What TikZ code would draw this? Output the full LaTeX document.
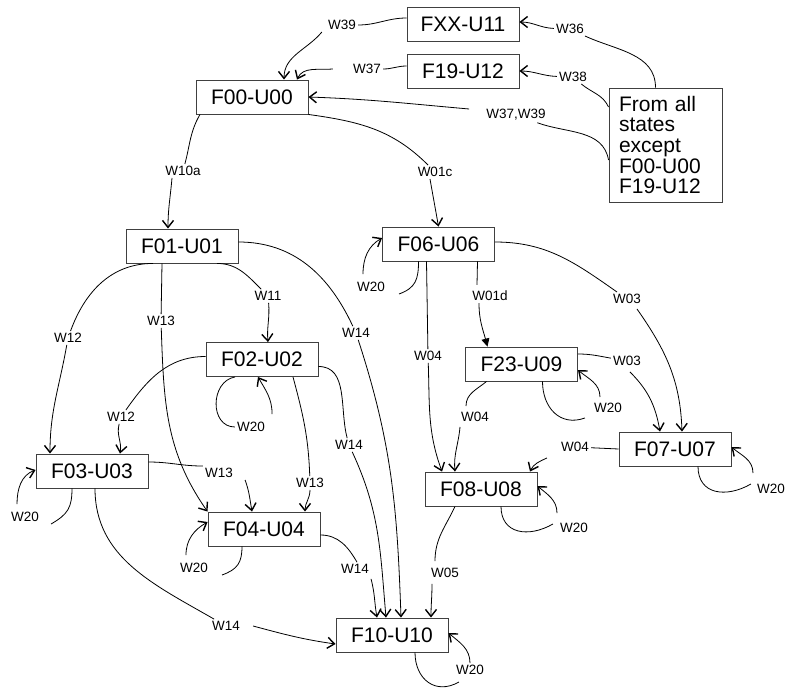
\documentclass[tikz,border=0pt]{standalone}
\usepackage{fontspec}
\setmainfont{Liberation Sans}
\usetikzlibrary{arrows.meta}
\begin{document}
\begin{tikzpicture}[x=1pt,y=-1pt,
  box/.style={draw=black!75, line width=0.9pt, minimum width=112pt, minimum height=34pt, inner sep=0pt, font=\fontsize{21}{24}\selectfont},
  lab/.style={inner sep=2pt, font=\fontsize{13.5}{15}\selectfont},
  conn/.style={line width=0.8pt},
  arr/.style={conn, -{Straight Barb[length=7pt,width=11pt,line width=1.4pt]}},
  tri/.style={conn, -{Triangle[length=8pt,width=8pt]}}
]
\useasboundingbox (0,0) rectangle (785,688);
% states
\node[box] (FXX) at (463,24) {FXX-U11};
\node[box] (F19) at (463,71) {F19-U12};
\node[box] (F00) at (252,97) {F00-U00};
\node[box, minimum width=113pt, minimum height=114pt, text width=93pt, align=left, inner xsep=10pt, inner ysep=8pt, font=\fontsize{21}{20.6}\selectfont] (From) at (665.5,145) {From all\\states\\except\\F00-U00\\F19-U12};
\node[box] (F01) at (182,246) {F01-U01};
\node[box] (F06) at (438.5,244) {F06-U06};
\node[box] (F02) at (262,359.5) {F02-U02};
\node[box] (F23) at (521.5,364) {F23-U09};
\node[box] (F03) at (92,471) {F03-U03};
\node[box] (F07) at (675,449) {F07-U07};
\node[box] (F08) at (481,489) {F08-U08};
\node[box] (F04) at (264,529) {F04-U04};
\node[box] (F10) at (392,635) {F10-U10};
% labels
\node[lab] (lW39) at (342,25) {W39};
\node[lab] (lW37) at (367,69) {W37};
\node[lab] (lW36) at (570,29) {W36};
\node[lab] (lW38) at (573,77) {W38};
\node[lab] (lW3739) at (516,115) {W37,W39};
\node[lab] (lW10a) at (183,171) {W10a};
\node[lab] (lW01c) at (435,172) {W01c};
\node[lab] (lW12a) at (68,338) {W12};
\node[lab] (lW13a) at (161,321) {W13};
\node[lab] (lW11) at (268,296) {W11};
\node[lab] (lW14a) at (356,333) {W14};
\node[lab] (lW12b) at (121,417) {W12};
\node[lab] (lW20b) at (251,427) {W20};
\node[lab] (lW14b) at (349,445) {W14};
\node[lab] (lW13b) at (310,483) {W13};
\node[lab] (lW13c) at (219,473) {W13};
\node[lab] (lW20c) at (25,517) {W20};
\node[lab] (lW14c) at (226,626) {W14};
\node[lab] (lW20d) at (194,568) {W20};
\node[lab] (lW14d) at (355,569) {W14};
\node[lab] (lW05) at (445,573) {W05};
\node[lab] (lW20j) at (470,670) {W20};
\node[lab] (lW20f) at (371,287) {W20};
\node[lab] (lW04a) at (428,356) {W04};
\node[lab] (lW01d) at (490,296) {W01d};
\node[lab] (lW03a) at (627,299) {W03};
\node[lab] (lW03b) at (627,361) {W03};
\node[lab] (lW20g) at (608,408) {W20};
\node[lab] (lW04b) at (475,417) {W04};
\node[lab] (lW04c) at (575,447) {W04};
\node[lab] (lW20h) at (771,489) {W20};
\node[lab] (lW20i) at (574,528) {W20};
% top
\draw[conn] ([yshift=6pt]FXX.west) to[out=180,in=0] (lW39);
\draw[arr] ([xshift=-4pt]lW39.south west) to[out=-130,in=90] ([xshift=32pt]F00.north);
\draw[conn] ([yshift=5pt]F19.west) to[out=180,in=0] (lW37);
\draw[arr] ([xshift=-18pt]lW37.west) to[out=185,in=65] ([xshift=45pt]F00.north);
\draw[conn] ([xshift=-10pt]From.north) to[out=90,in=-25] (lW36);
\draw[arr] (lW36) to[out=178,in=0] ([yshift=2pt]FXX.east);
\draw[conn] ([yshift=38pt]From.west) to[out=115,in=-40] (lW38);
\draw[arr] (lW38) to[out=178,in=0] (F19.east);
\draw[conn] ([yshift=-15pt]From.west) to[out=100,in=-20] (lW3739);
\draw[arr] ([xshift=-15pt,yshift=6pt]lW3739.west) to[out=175,in=-2] (F00.east);
% F00
\draw[conn] ([xshift=-52pt]F00.south) to[out=-120,in=75] (lW10a);
\draw[arr] ([xshift=-11pt]lW10a.south) to[out=-95,in=90] ([xshift=-14pt]F01.north);
\draw[conn] (F00.south east) to[out=-8,in=135] (lW01c);
\draw[arr] ([xshift=-5pt]lW01c.south) to[out=-80,in=100] (F06.north);
% F01
\draw[conn] ([xshift=-29pt]F01.south) to[out=180,in=70] (lW12a);
\draw[arr] (lW12a) to[out=-100,in=90] ([xshift=-42pt]F03.north);
\draw[conn] ([xshift=-20pt]F01.south) -- (lW13a);
\draw[arr] (lW13a) to[out=-88,in=125] (F04.north west);
\draw[conn] ([xshift=35pt]F01.south) to[out=0,in=135] (lW11);
\draw[arr] (lW11) to[out=-85,in=95] ([xshift=6pt]F02.north);
\draw[conn] ([yshift=4pt]F01.east) to[out=0,in=115] (lW14a);
\draw[arr] (lW14a) to[out=-72,in=92] ([xshift=9pt]F10.north);
% F02
\draw[conn] ([yshift=3pt]F02.west) to[out=180,in=55] (lW12b);
\draw[arr] (lW12b) to[out=-105,in=80] ([xshift=28pt]F03.north);
\draw[conn] ([xshift=-27pt]F02.south) to[out=190,in=180,looseness=1.3] (lW20b.west);
\draw[arr] ([xshift=5pt,yshift=6pt]lW20b.north east) to[out=90,in=-60] ([xshift=-4pt]F02.south);
\draw[conn] ([yshift=-7pt]F02.east) to[out=0,in=105] (lW14b);
\draw[arr] (lW14b) to[out=-65,in=95] ([xshift=-6pt]F10.north);
\draw[conn] ([xshift=31pt]F02.south) to[out=-75,in=92] (lW13b);
\draw[arr] (lW13b) to[out=-90,in=90] ([xshift=41pt]F04.north);
% F03
\draw[conn] ([yshift=9pt]F03.east) to[out=0,in=180] (lW13c.north west);
\draw[arr] ([xshift=10pt]lW13c.south east) to[out=-70,in=100] ([xshift=-12pt]F04.north);
\draw[conn] ([xshift=-20pt]F03.south) to[out=-90,in=30,looseness=1.2] ([xshift=10pt]lW20c.south east);
\draw[arr] ([xshift=-8pt,yshift=6pt]lW20c.north) to[out=90,in=200] ([yshift=1pt]F03.west);
\draw[conn] ([xshift=3pt]F03.south) to[out=-90,in=150] (lW14c);
\draw[arr] ([xshift=11pt]lW14c.east) to[out=-15,in=172] ([yshift=-9pt]F10.west);
% F04
\draw[conn] ([xshift=-22pt]F04.south) to[out=-90,in=20,looseness=1.2] ([xshift=12pt]lW20d.south east);
\draw[arr] ([xshift=-8pt,yshift=6pt]lW20d.north) to[out=90,in=210] ([yshift=7pt]F04.west);
\draw[conn] ([yshift=-6pt]F04.east) to[out=0,in=120] ([xshift=2pt]lW14d.north);
\draw[arr] ([xshift=16pt,yshift=-3pt]lW14d.south) to[out=-75,in=100] ([xshift=-15pt]F10.north);
% F08 -> F10
\draw[conn] ([xshift=-26pt]F08.south) to[out=-115,in=90] ([xshift=-10pt,yshift=5pt]lW05.north);
\draw[arr] ([xshift=-13pt,yshift=-4pt]lW05.south) to[out=-90,in=90] ([xshift=39pt]F10.north);
% F10 loop
\draw[conn] ([xshift=23pt]F10.south) to[out=-90,in=210,looseness=1.3] ([xshift=5pt,yshift=-5pt]lW20j.south west);
\draw[arr] (lW20j.north) to[out=90,in=-40] ([yshift=2pt]F10.east);
% F06
\draw[conn] ([xshift=-20pt]F06.south) to[out=-90,in=20,looseness=1.2] ([xshift=12pt]lW20f.south east);
\draw[arr] ([xshift=-8pt,yshift=6pt]lW20f.north) to[out=90,in=210] ([yshift=6pt]F06.west);
\draw[conn] ([xshift=-12pt]F06.south) -- (lW04a);
\draw[arr] (lW04a) to[out=-88,in=110] ([xshift=-39pt]F08.north);
\draw[conn] ([xshift=39pt]F06.south) -- ([xshift=-13pt,yshift=4pt]lW01d.north);
\draw[tri] ([xshift=-11pt]lW01d.south) to[out=-90,in=105] ([xshift=-34pt]F23.north);
\draw[conn] ([yshift=2pt]F06.east) to[out=0,in=145] (lW03a);
\draw[arr] ([xshift=10pt,yshift=-3pt]lW03a.south) to[out=-55,in=92] ([xshift=7pt]F07.north);
% F23
\draw[conn] ([yshift=10pt]F23.east) to[out=0,in=170] (lW03b);
\draw[arr] ([xshift=3pt,yshift=-4pt]lW03b.south) to[out=-45,in=100] ([xshift=-15pt]F07.north);
\draw[conn] ([xshift=21pt]F23.south) to[out=-90,in=200,looseness=1.2] ([xshift=-7pt,yshift=-3pt]lW20g.south west);
\draw[arr] ([xshift=-8pt,yshift=4pt]lW20g.north) to[out=90,in=-40] ([yshift=-6pt]F23.east);
\draw[conn] ([xshift=-35pt]F23.south) to[out=-140,in=90] ([xshift=-9pt,yshift=4pt]lW04b.north);
\draw[arr] ([xshift=-15pt,yshift=-3pt]lW04b.south) to[out=-95,in=95] ([xshift=-26pt]F08.north);
% F07
\draw[conn] (F07.west) -- (lW04c);
\draw[arr] ([xshift=-12pt,yshift=-4pt]lW04c.south west) to[out=-155,in=65] ([xshift=49pt]F08.north);
\draw[conn] ([xshift=23pt]F07.south) to[out=-90,in=210,looseness=1.3] ([xshift=-4pt,yshift=5pt]lW20h.west);
\draw[arr] ([xshift=-18pt,yshift=9pt]lW20h.north) to[out=90,in=-40] ([yshift=2pt]F07.east);
% F08 loop
\draw[conn] ([xshift=20pt]F08.south) to[out=-90,in=210,looseness=1.3] ([xshift=-5pt,yshift=4pt]lW20i.west);
\draw[arr] ([xshift=-17pt,yshift=8pt]lW20i.north) to[out=90,in=-40] ([yshift=3pt]F08.east);
\end{tikzpicture}
\end{document}
